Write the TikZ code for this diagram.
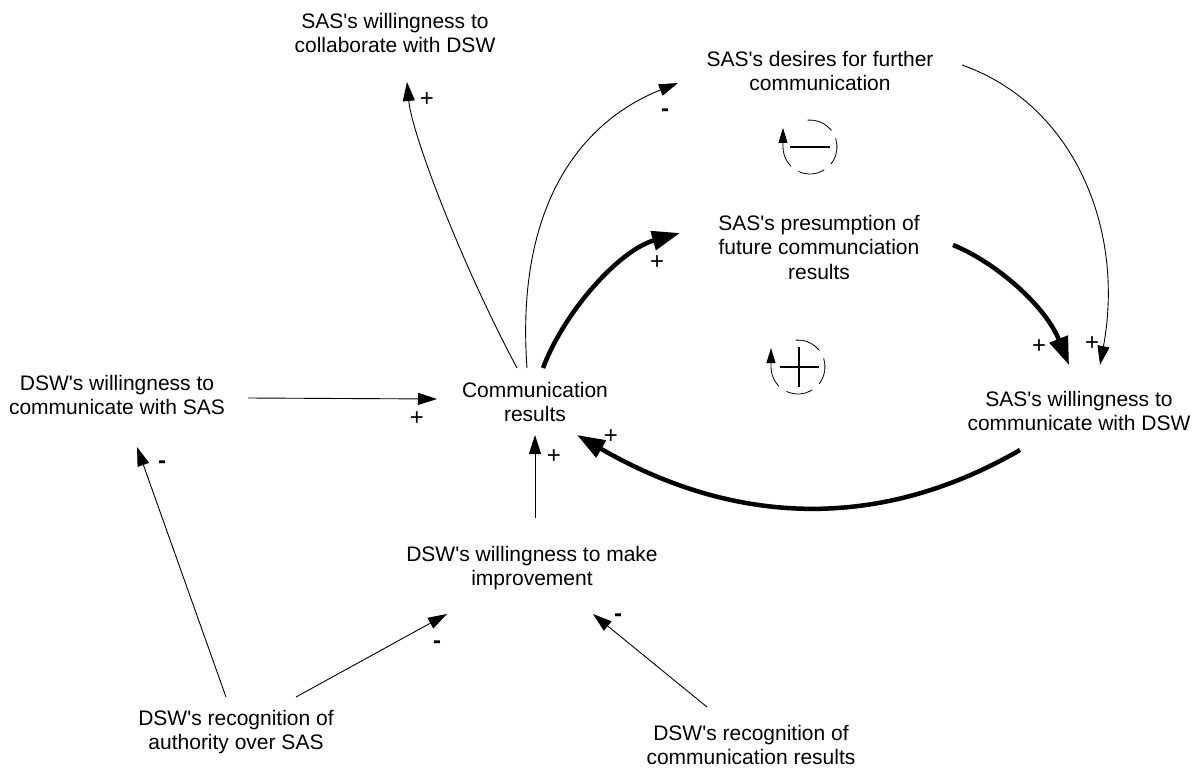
\documentclass[tikz,border=0pt]{standalone}
\usepackage{fontspec}
\setmainfont{Liberation Sans}[Ligatures=TeXOff]
\usetikzlibrary{arrows.meta}

\begin{document}
\begin{tikzpicture}[x=1pt,y=-1pt,
    var/.style={align=center,inner sep=0pt,font=\fontsize{21}{24.5}\selectfont},
    sgn/.style={inner sep=0pt,font=\fontsize{24}{24}\selectfont},
    link/.style={line width=0.9pt,-{Triangle[length=19pt,width=12pt]}},
    boldlink/.style={line width=4.5pt,-{Triangle[length=28pt,width=19pt]}},
    loopsym/.style={line width=0.8pt,dash pattern=on 27pt off 9pt,-{Triangle[length=15pt,width=9pt]}}]
    \useasboundingbox (0,0) rectangle (1199,773);

    \node[var] (collab) at (395,33) {SAS's willingness to\\collaborate with DSW};
    \node[var] (desires) at (820,71) {SAS's desires for further\\communication};
    \node[var] (pres) at (819,247) {SAS's presumption of\\future communciation\\results};
    \node[var] (comm) at (535,402) {Communication\\results};
    \node[var] (dswwill) at (117,395) {DSW's willingness to\\communicate with SAS};
    \node[var] (saswill) at (1079,411) {SAS's willingness to\\communicate with DSW};
    \node[var] (improve) at (532,568) {DSW's willingness to make\\improvement};
    \node[var] (authority) at (236,732) {DSW's recognition of\\authority over SAS};
    \node[var] (commrec) at (751,745) {DSW's recognition of\\communication results};

    \draw[link] ([shift={(-18,-34)}]comm.center) .. controls (462,265) and (412,135) .. ([shift={(12,49)}]collab.center);
    \node[sgn] (p1) at (427,100) {+};

    \draw[link] ([shift={(-8,-34)}]comm.center) .. controls (515,200) and (585,120) .. ([shift={(-142,12)}]desires.center);
    \node[sgn] (m1) at (665,113) {\textbf{-}};

    \draw[boldlink] ([shift={(8,-34)}]comm.center) .. controls (565,310) and (620,250) .. ([shift={(-139,-14)}]pres.center);
    \node[sgn] (p2) at (657,263) {+};

    \draw[boldlink] ([shift={(134,-2)}]pres.center) .. controls (995,262) and (1045,305) .. ([shift={(-10,-46)}]saswill.center);
    \node[sgn] (p3) at (1039,347) {+};

    \draw[link] ([shift={(142,-6)}]desires.center) .. controls (1075,105) and (1125,230) .. ([shift={(21,-46)}]saswill.center);
    \node[sgn] (p4) at (1092,344) {+};

    \draw[boldlink] ([shift={(-59,39)}]saswill.center) .. controls (871,536) and (726,521) .. ([shift={(42,33)}]comm.center);
    \node[sgn] (p5) at (611,437) {+};

    \draw[link] ([shift={(131,3)}]dswwill.center) -- ([shift={(-98,-3)}]comm.center);
    \node[sgn] (p6) at (417,419) {+};

    \draw[link] ([shift={(3,-50)}]improve.center) -- ([shift={(0,33)}]comm.center);
    \node[sgn] (p7) at (554,457) {+};

    \draw[link] ([shift={(-10,-35)}]authority.center) -- ([shift={(20,52)}]dswwill.center);
    \node[sgn] (m2) at (162,465) {\textbf{-}};

    \draw[link] ([shift={(60,-35)}]authority.center) -- ([shift={(-85,46)}]improve.center);
    \node[sgn] (m3) at (437,645) {\textbf{-}};

    \draw[link] ([shift={(-44,-38)}]commrec.center) -- ([shift={(61,46)}]improve.center);
    \node[sgn] (m4) at (618,618) {\textbf{-}};

    \draw[loopsym] (810,147) ++(-95:27) arc (-95:180:27) -- ++(0,-19);
    \draw[line width=2.6pt] (790,147) -- (830,147);

    \draw[loopsym] (798,367) ++(-95:27) arc (-95:180:27) -- ++(0,-19);
    \draw[line width=2.6pt] (780,367) -- (819,367);
    \draw[line width=2.6pt] (799,347) -- (799,387);
\end{tikzpicture}
\end{document}
